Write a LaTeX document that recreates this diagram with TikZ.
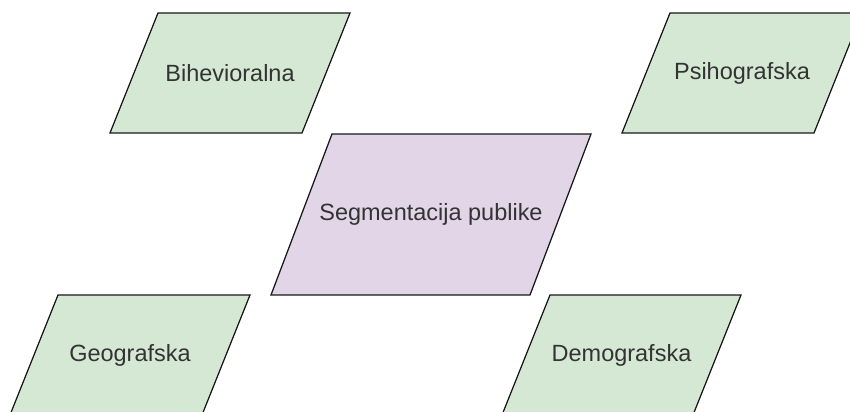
\documentclass[tikz,border=0pt]{standalone}
\usepackage{fontspec}
\setmainfont{Liberation Sans}
\definecolor{segfill}{HTML}{D5E8D4}
\definecolor{mainfill}{HTML}{E1D5E7}
\definecolor{txtgray}{HTML}{333333}
\tikzset{
  segbox/.style={draw=black!90, line width=0.9pt, fill=segfill, line join=miter},
  mainbox/.style={segbox, fill=mainfill},
  lbl/.style={text=txtgray, font=\fontsize{16.7}{20}\selectfont}
}
\begin{document}
\begin{tikzpicture}[x=0.025cm, y=-0.025cm]
\clip (0,0) rectangle (850,412);
%vrste segmentacije oko sredine
\draw[segbox] (110,133)--(158,13)--(350,13)--(302,133)--cycle;
\node[lbl] (bih) at (230,73) {Bihevioralna};
\draw[segbox] (622,133)--(670,13)--(862,13)--(814,133)--cycle;
\node[lbl] (psi) at (742,73) {Psihografska};
\draw[mainbox] (271,295)--(332,134)--(591,134)--(530,295)--cycle;
\node[lbl] (seg) at (431,214.5) {Segmentacija publike};
\draw[segbox] (10,415)--(58,295)--(250,295)--(202,415)--cycle;
\node[lbl] (geo) at (130,355) {Geografska};
\draw[segbox] (502,415)--(550,295)--(741,295)--(693,415)--cycle;
\node[lbl] (dem) at (621.5,355) {Demografska};
\end{tikzpicture}
\end{document}
